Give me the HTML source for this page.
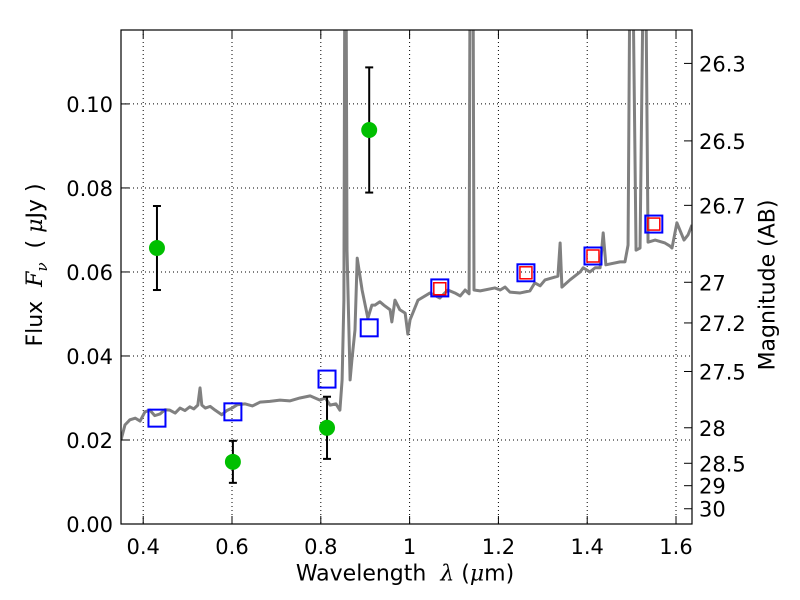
<!DOCTYPE html>
<html><head><meta charset="utf-8"><style>body{margin:0;background:#fff}svg{display:block}</style></head>
<body>
<svg id="c" width="800" height="600" xmlns="http://www.w3.org/2000/svg" font-family="DejaVu Sans, Liberation Sans, sans-serif"></svg>
<script>
const specWave=[.350,.359,.370,.382,.393,.404,.415,.426,.438,.449,.460,.472,.483,.494,.505,.514,.523,.528,.532,.540,.551,.562,.577,.588,.600,.612,.629,.646,.663,.685,.708,.730,.753,.776,.798,.810,.821,.834,.843,.848,.852,.854,.857,.859,.866,.870,.877,.882,.893,.906,.915,.922,.933,.942,.956,.960,.967,.978,.990,.996,1.001,1.019,1.046,1.068,1.086,1.102,1.114,1.125,1.134,1.136,1.143,1.145,1.159,1.192,1.204,1.215,1.226,1.249,1.271,1.282,1.294,1.305,1.334,1.339,1.343,1.361,1.384,1.391,1.406,1.418,1.429,1.436,1.442,1.474,1.485,1.492,1.496,1.503,1.510,1.519,1.526,1.532,1.537,1.553,1.575,1.586,1.591,1.602,1.618,1.627,1.636];
const specFlux=[.020,.0236,.0248,.0252,.0245,.0267,.0271,.0258,.0262,.0272,.0271,.0264,.0276,.0270,.0279,.0274,.0283,.0324,.0283,.0276,.0280,.0271,.026,.0270,.0276,.0284,.0286,.0281,.029,.0292,.0295,.0293,.030,.0305,.0295,.0300,.0283,.0286,.0271,.0343,.0533,.13,.13,.0652,.0343,.039,.0462,.0633,.0557,.049,.0521,.0521,.0529,.0521,.051,.0481,.0533,.051,.0502,.0452,.0486,.0533,.055,.0538,.0557,.055,.0543,.0557,.0548,.13,.13,.0557,.0555,.0562,.0557,.0564,.0552,.055,.0555,.0574,.0567,.0581,.059,.0669,.0564,.0581,.060,.061,.060,.061,.061,.0693,.0617,.0624,.0624,.0664,.13,.13,.0652,.0657,.13,.13,.0671,.0676,.0669,.0662,.0657,.0717,.0676,.0688,.0712];
const photWave=[.431,.602,.814,.909,1.068,1.262,1.413,1.550];
const modelFlux=[.0252,.0267,.0345,.0467,.0562,.0598,.0638,.0714];
const redWave=[1.068,1.262,1.413,1.550];
const redFlux=[.0560,.0598,.0638,.0714];
const obsWave=[.431,.602,.814,.909];
const obsFlux=[.0657,.0148,.0229,.0938];
const obsErr=[.010,.005,.0074,.0149];
const xTicks=[0.4,0.6,0.8,1.0,1.2,1.4,1.6];
const xTickLabels=["0.4","0.6","0.8","1","1.2","1.4","1.6"];
const yTicks=[0,0.02,0.04,0.06,0.08,0.10];
const yTickLabels=["0.00","0.02","0.04","0.06","0.08","0.10"];
const magTicks=[26.3,26.5,26.7,27,27.2,27.5,28,28.5,29,30];
const magTickLabels=["26.3","26.5","26.7","27","27.2","27.5","28","28.5","29","30"];

const L=121,R=692,T=30,B=524,X0=0.35,X1=1.636,Y0=0,Y1=0.1176;
const sx=v=>L+(v-X0)/(X1-X0)*(R-L);
const sy=v=>B-(v-Y0)/(Y1-Y0)*(B-T);
const svg=document.getElementById('c');
const NS='http://www.w3.org/2000/svg';
function mk(tag,attrs,parent){const e=document.createElementNS(NS,tag);for(const k in attrs)e.setAttribute(k,attrs[k]);(parent||svg).appendChild(e);return e;}
const defs=mk('defs',{});const cp=mk('clipPath',{id:'clip'},defs);mk('rect',{x:L,y:T,width:R-L,height:B-T},cp);

const grid=mk('g',{});


xTicks.forEach(v=>{mk('line',{x1:sx(v),x2:sx(v),y1:T,y2:B,stroke:'#000','stroke-dasharray':'1,3','stroke-width':1},grid);});
yTicks.forEach(v=>{mk('line',{x1:L,x2:R,y1:sy(v),y2:sy(v),stroke:'#000','stroke-dasharray':'1,3','stroke-width':1},grid);});

const plot=mk('g',{'clip-path':'url(#clip)'});
const spec=mk('polyline',{points:specWave.map((w,i)=>sx(w)+','+sy(specFlux[i])).join(' '),fill:'none',stroke:'#808080','stroke-width':3,'stroke-linejoin':'round'},plot);



photWave.forEach((w,i)=>{const s=mk('rect',{x:sx(w)-8.5,y:sy(modelFlux[i])-8.5,width:17,height:17,fill:'none',stroke:'#0000ff','stroke-width':2},plot);

});
redWave.forEach((w,i)=>{const s=mk('rect',{x:sx(w)-6,y:sy(redFlux[i])-6,width:12,height:12,fill:'none',stroke:'#ff0000','stroke-width':1.5},plot);

});
obsWave.forEach((w,i)=>{const g=mk('g',{},plot);


const x=sx(w),y1=sy(obsFlux[i]-obsErr[i]),y2=sy(obsFlux[i]+obsErr[i]);
mk('line',{x1:x,x2:x,y1:y1,y2:y2,stroke:'#000','stroke-width':2},g);
mk('line',{x1:x-4,x2:x+4,y1:y1,y2:y1,stroke:'#000','stroke-width':2},g);
mk('line',{x1:x-4,x2:x+4,y1:y2,y2:y2,stroke:'#000','stroke-width':2},g);
mk('circle',{cx:x,cy:sy(obsFlux[i]),r:8,fill:'#00bf00'},g);});

mk('rect',{x:L,y:T,width:R-L,height:B-T,fill:'none',stroke:'#000','stroke-width':1.2});
const xa=mk('g',{});


xTicks.forEach((v,i)=>{const x=sx(v);mk('line',{x1:x,x2:x,y1:B,y2:B-8,stroke:'#000'},xa);mk('line',{x1:x,x2:x,y1:T,y2:T+8,stroke:'#000'},xa);
const t=mk('text',{x:x,y:B+30,'font-size':21,'text-anchor':'middle'},xa);t.textContent=xTickLabels[i];});
const ya=mk('g',{});


yTicks.forEach((v,i)=>{const y=sy(v);mk('line',{x1:L,x2:L+8,y1:y,y2:y,stroke:'#000'},ya);
const t=mk('text',{x:L-8,y:y+8,'font-size':21,'text-anchor':'end'},ya);t.textContent=yTickLabels[i];});
const ma=mk('g',{});


magTicks.forEach((m,i)=>{const y=sy(Math.pow(10,(23.9-m)/2.5));mk('line',{x1:R,x2:R-8,y1:y,y2:y,stroke:'#000'},ma);
const t=mk('text',{x:R+7,y:y+8,'font-size':21},ma);t.textContent=magTickLabels[i];});
</script>
<div style="position:absolute;left:0;top:0;width:800px;height:600px;pointer-events:none;font-family:'DejaVu Sans','Liberation Sans',sans-serif">
<div style="position:absolute;left:405px;top:574px;font-size:22px;white-space:nowrap;transform:translate(-50%,-50%)">Wavelength &nbsp;<i style="font-family:'DejaVu Serif',serif">λ</i> (<i style="font-family:'DejaVu Serif',serif">μ</i>m)</div>
<div style="position:absolute;left:37px;top:265px;font-size:22px;white-space:nowrap;transform:translate(-50%,-50%) rotate(-90deg)">Flux &nbsp;<i style="font-family:'DejaVu Serif',serif">F<sub style="font-size:15px">ν</sub></i> &nbsp;( <i style="font-family:'DejaVu Serif',serif">μ</i>Jy )</div>
<div style="position:absolute;left:768px;top:285px;font-size:22px;white-space:nowrap;transform:translate(-50%,-50%) rotate(-90deg)">Magnitude (AB)</div>
</div>
</body></html>
